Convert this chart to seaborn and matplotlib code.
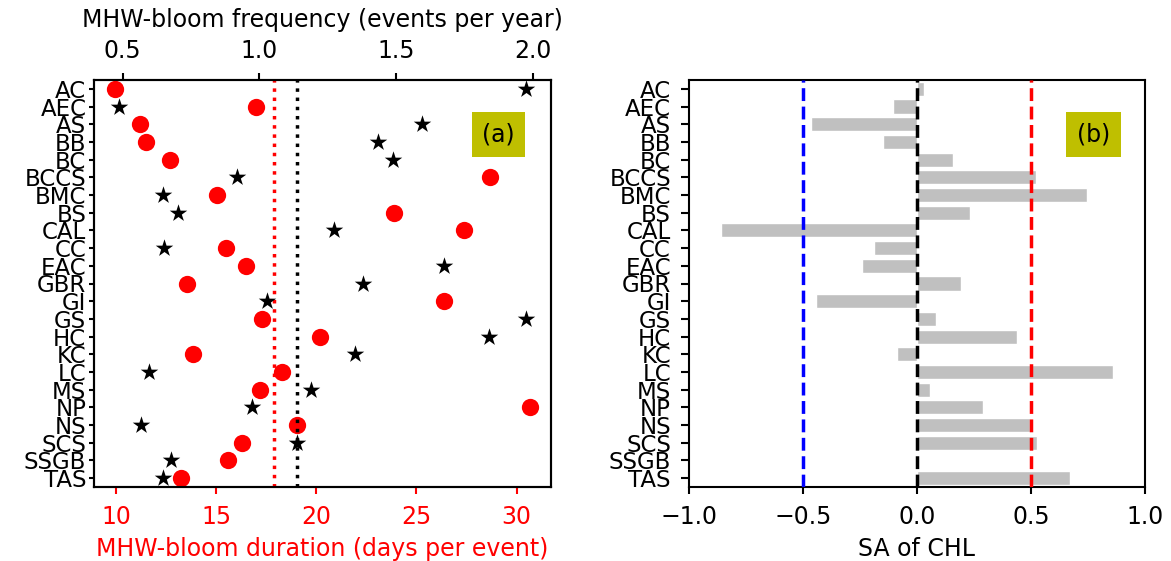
import numpy as np
import pandas as pd
import matplotlib
matplotlib.use("Agg")
import matplotlib.pyplot as plt
import seaborn as sns

regions = ["AC", "AEC", "AS", "BB", "BC", "BCCS", "BMC", "BS", "CAL", "CC", "EAC", "GBR",
           "GI", "GS", "HC", "KC", "LC", "MS", "NP", "NS", "SCS", "SSGB", "TAS"]
duration = [9.93, 17.0, 11.2, 11.5, 12.7, 28.68, 15.03, 23.88, 27.35, 15.5, 16.47, 13.53,
            26.38, 17.3, 20.18, 13.83, 18.3, 17.2, 30.65, 19.05, 16.28, 15.6, 13.25]
frequency = [1.973, 0.488, 1.595, 1.433, 1.487, 0.919, 0.649, 0.701, 1.271, 0.650, 1.675, 1.378,
             1.027, 1.973, 1.838, 1.351, 0.595, 1.189, 0.972, 0.567, 1.137, 0.676, 0.649]
sa_chl = [0.029, -0.105, -0.465, -0.149, 0.158, 0.522, 0.746, 0.232, -0.860, -0.189, -0.241, 0.193,
          -0.443, 0.083, 0.439, -0.088, 0.860, 0.057, 0.289, 0.494, 0.526, 0.0, 0.671]
dur_ticks = [10, 15, 20, 25, 30]
freq_ticks = [0.5, 1.0, 1.5, 2.0]
sa_ticks = [-1.0, -0.5, 0.0, 0.5, 1.0]

df = pd.DataFrame({"region": regions, "duration": duration,
                   "frequency": frequency, "sa": sa_chl})

sns.set_style("ticks", {"axes.edgecolor": "black", "xtick.color": "black",
                        "ytick.color": "black", "text.color": "black",
                        "axes.labelcolor": "black"})
plt.rcParams["font.family"] = ["DejaVu Sans"]
plt.rcParams.update({
    "font.size": 17, "xtick.labelsize": 17, "ytick.labelsize": 16.5,
    "axes.labelsize": 17, "xtick.major.size": 5, "ytick.major.size": 5,
    "xtick.major.width": 1.5, "ytick.major.width": 1.5, "axes.linewidth": 1.5,
})

W, H = 1171, 561
fig = plt.figure(figsize=(W / 100, H / 100), dpi=100)
ax1 = fig.add_axes([94 / W, 74 / H, 457 / W, 407 / H])
ax3 = fig.add_axes([689 / W, 74 / H, 456 / W, 407 / H])

# Panel (a)
sns.scatterplot(data=df, x="duration", y="region", ax=ax1, color="red",
                marker="o", s=155, linewidth=0, zorder=3)
ax1.axvline(np.mean(duration), color="red", ls=":", lw=2.5, zorder=2)
ax2 = ax1.twiny()
sns.scatterplot(data=df, x="frequency", y="region", ax=ax2, color="black",
                marker="*", s=175, linewidth=0, zorder=3)
ax2.axvline(np.mean(frequency), color="black", ls=":", lw=2.5, zorder=2)

ax1.set_ylim(len(regions) - 0.5, -0.5)
ax1.set_xlim(8.89, 31.72)
ax2.set_xlim(0.395, 2.066)
ax1.set_xticks(dur_ticks)
ax2.set_xticks(freq_ticks)
ax1.tick_params(axis="x", colors="red", pad=8)
ax1.tick_params(axis="y", length=3.5, pad=2)
ax2.tick_params(axis="x", pad=7)
ax1.set_xlabel("MHW-bloom duration (days per event)", color="red", labelpad=6)
ax2.set_xlabel("MHW-bloom frequency (events per year)", labelpad=9)
ax1.set_ylabel("")
ax2.set_ylabel("")
ax2.text(0.885, 0.866, "(a)", transform=ax2.transAxes, ha="center", va="center",
         fontsize=17, zorder=5,
         bbox=dict(boxstyle="square,pad=0.45", facecolor="#bfbf00", edgecolor="none"))

# Panel (b)
sns.barplot(data=df, x="sa", y="region", ax=ax3, color="silver", orient="h",
            width=0.8, saturation=1, zorder=1)
ax3.axvline(-0.5, color="blue", ls="--", lw=2.5, zorder=3)
ax3.axvline(0.0, color="black", ls="--", lw=2.5, zorder=3)
ax3.axvline(0.5, color="red", ls="--", lw=2.5, zorder=3)
ax3.set_xlim(-1, 1)
ax3.set_ylim(len(regions) - 0.5, -0.5)
ax3.set_xticks(sa_ticks)
ax3.tick_params(axis="x", pad=8)
ax3.tick_params(axis="y", length=6, pad=7)
ax3.set_xlabel("SA of CHL", labelpad=6)
ax3.set_ylabel("")
ax3.text(0.887, 0.866, "(b)", transform=ax3.transAxes, ha="center", va="center",
         fontsize=17, zorder=5,
         bbox=dict(boxstyle="square,pad=0.45", facecolor="#bfbf00", edgecolor="none"))

fig.savefig("out.png", dpi=100)
